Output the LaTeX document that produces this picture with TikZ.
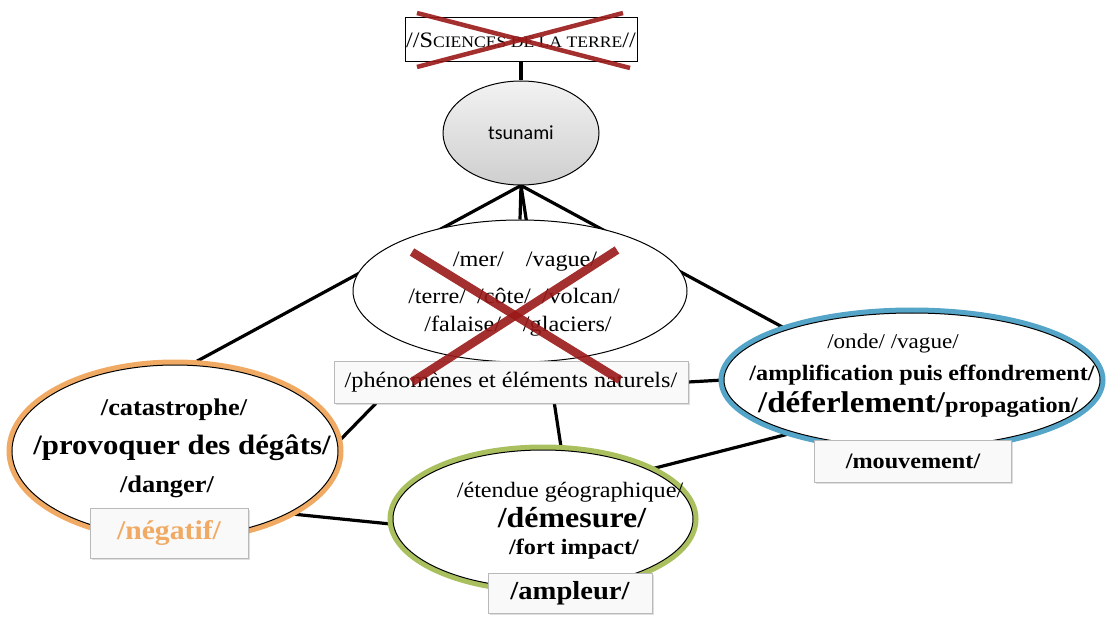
\documentclass[tikz,border=0pt]{standalone}
\usepackage{fontspec}
\setmainfont{Liberation Serif}[FakeStretch=1.1]
\newfontfamily\tsufont{Carlito}
\usetikzlibrary{shapes.geometric,shadows,backgrounds}
\newcommand\fsz[1]{\fontsize{#1}{#1}\selectfont}
\definecolor{crossred}{RGB}{155,25,25}
\definecolor{negcol}{RGB}{240,170,100}
\definecolor{ampcol}{RGB}{170,192,95}
\definecolor{mouvcol}{RGB}{85,165,200}
\begin{document}
\begin{tikzpicture}[x=1pt,y=-1pt,
  link/.style={line width=3.2pt, black},
  oval/.style={ellipse, draw=black, line width=1pt, fill=white, inner sep=0pt},
  rimmed/.style={oval, preaction={draw=#1, line width=11pt}},
  tag/.style={draw=gray!55, fill=gray!5, line width=0.8pt, inner sep=0pt,
    drop shadow={opacity=0.25, shadow xshift=1.5pt, shadow yshift=-1.5pt}},
  txt/.style={inner sep=0pt},
  cross/.style={line width=8.5pt, crossred, opacity=0.9}]
  \useasboundingbox (0,0) rectangle (1118,617);

  % top of the map
  \node[draw=black, line width=1pt, fill=white, minimum width=232pt, minimum height=44pt, inner sep=0pt] (sciences) at (521,40)
    {\fsz{22}//S\fsz{16}CIENCES DE LA TERRE\fsz{22}//};
  \node[ellipse, draw=black, line width=1pt, top color=gray!10, bottom color=gray!38,
    minimum width=156pt, minimum height=104pt] (tsunami) at (521,133) {\tsufont\fsz{20}tsunami};

  % the five fields
  \node[oval, minimum width=334pt, minimum height=142pt] (phen) at (520,291) {};
  \node[rimmed=negcol, minimum width=326pt, minimum height=172pt] (neg) at (175,451) {};
  \node[rimmed=ampcol, minimum width=300pt, minimum height=138pt] (amp) at (543,519) {};
  \node[rimmed=mouvcol, minimum width=376pt, minimum height=134pt] (mouv) at (912,380) {};

  \node[txt] (mer) at (525,262) {\fsz{22}/mer/\quad/vague/};
  \node[txt] (terre) at (514,296) {\fsz{22}/terre/\enspace/côte/\enspace/volcan/};
  \node[txt] (falaise) at (518,326) {\fsz{22}/falaise/\quad/glaciers/};
  \node[tag, minimum width=354pt, minimum height=42pt] (phenbox) at (511,382) {\fsz{22}/phénomènes et éléments naturels/};

  \node[txt] (cat) at (174,410) {\bfseries\fsz{24}/catastrophe/};
  \node[txt] (degats) at (182,448) {\bfseries\fsz{28}/provoquer des dégâts/};
  \node[txt] (danger) at (167,487) {\bfseries\fsz{24}/danger/};
  \node[tag, minimum width=158pt, minimum height=50pt] (negbox) at (169,533) {\bfseries\fsz{27}\color{negcol}/négatif/};

  \node[txt] (etendue) at (570,492) {\fsz{22}/étendue géographique/};
  \node[txt] (demesure) at (572,518) {\bfseries\fsz{29}/démesure/};
  \node[txt] (impact) at (574,549) {\bfseries\fsz{22}/fort impact/};
  \node[tag, minimum width=164pt, minimum height=40pt] (ampbox) at (570,593) {\bfseries\fsz{26}/ampleur/};

  \node[txt] (onde) at (893,343) {\fsz{21}/onde/ /vague/};
  \node[txt] (ampli) at (922,375) {\bfseries\fsz{22}/amplification puis effondrement/};
  \node[txt] (deferl) at (918,404) {\bfseries\fsz{30}/déferlement/\fsz{22}propagation/};
  \node[tag, minimum width=197pt, minimum height=42pt] (mouvbox) at (913,461) {\bfseries\fsz{22}/mouvement/};

  % connectors
  \begin{pgfonlayer}{background}
    \draw[link] (sciences) -- (tsunami);
    \draw[link] (tsunami.south) -- (neg.80);
    \draw[link] (tsunami.south) -- (phen.north);
    \draw[link] (tsunami.south) -- (amp.75);
    \draw[link] (tsunami.south) -- (mouv.158);
    \draw[link] (neg.3) -- (phenbox.189);
    \draw[link] (neg.331) -- (amp.182);
    \draw[link] (phenbox.east) -- (mouv.west);
    \draw[link] (amp.25) -- (mouv.204);
  \end{pgfonlayer}

  % crossings out
  \draw[cross, line width=4.5pt] (417,13) -- (630,68);
  \draw[cross, line width=4.5pt] (417,67) -- (623,13);
  \draw[cross] (412,252) -- (620,380);
  \draw[cross] (617,250) -- (412,382);
\end{tikzpicture}
\end{document}
